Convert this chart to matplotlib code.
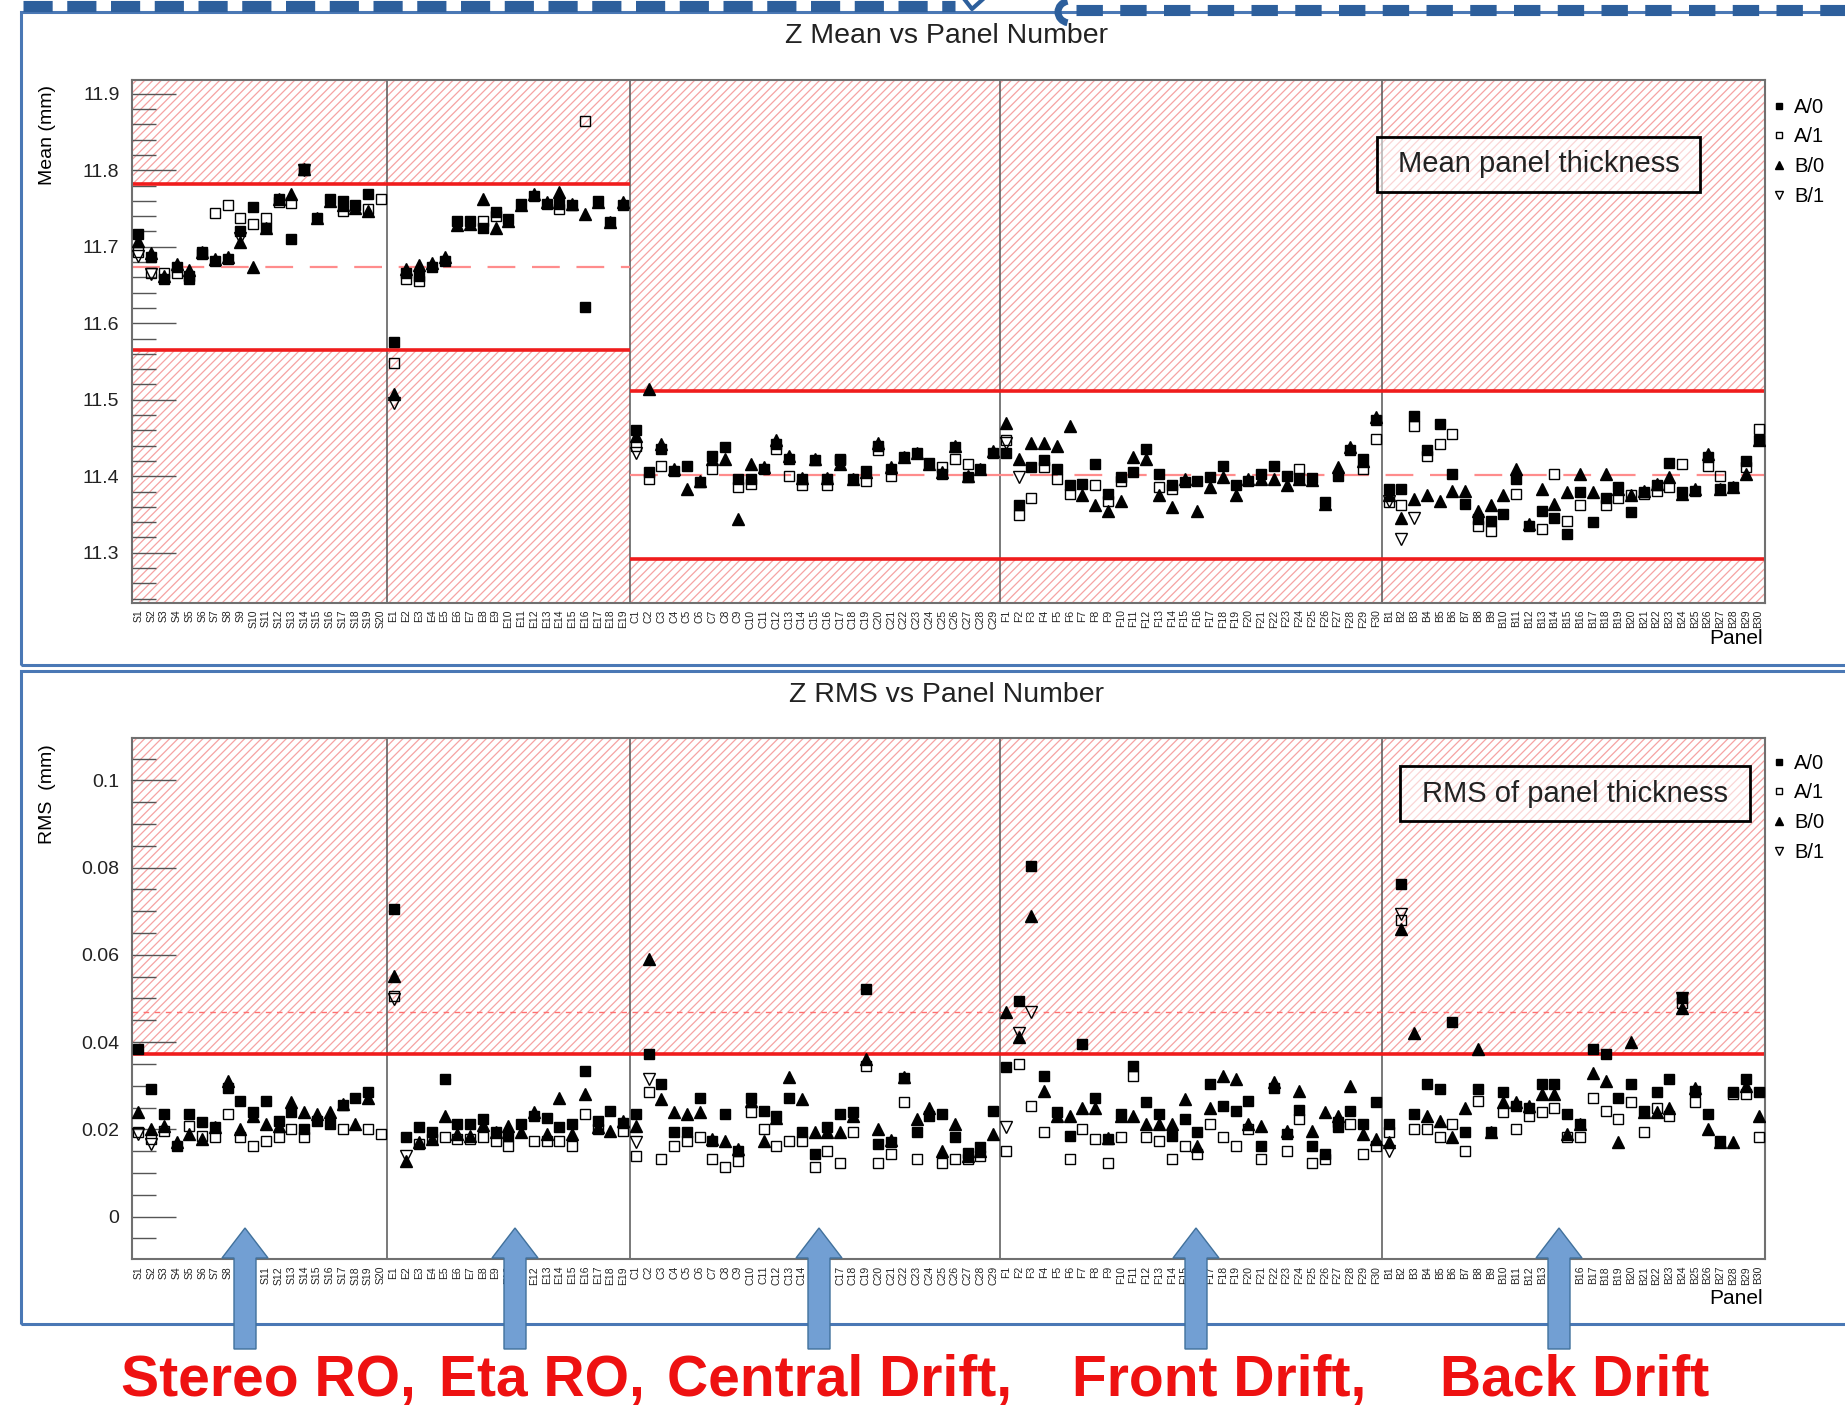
import numpy as np
import matplotlib
matplotlib.use('Agg')
import matplotlib.pyplot as plt
from matplotlib.patches import Rectangle, Polygon, Arc
from matplotlib.lines import Line2D

plt.rcParams['font.family'] = ['Liberation Sans', 'DejaVu Sans']
plt.rcParams['lines.scale_dashes'] = False
plt.rcParams['hatch.linewidth'] = 0.9

nan = np.nan

# panel groups along the x axis
SECTIONS = ['Stereo RO,', 'Eta RO,', 'Central Drift,', 'Front Drift,', 'Back Drift']
SECTION_PREFIX = ['S', 'E', 'C', 'F', 'B']
SECTION_BINS = [20, 19, 29, 30, 30]
SERIES = ['A/0', 'A/1', 'B/0', 'B/1']

# mean thickness per panel (mm)
mean_a0 = [11.717, 11.686, 11.658, 11.673, 11.658, 11.693, 11.682, 11.684, 11.721, 11.752,
           11.725, 11.762, 11.710, 11.802, 11.737, 11.762, 11.760, 11.754, 11.769, nan,
           11.575, 11.666, 11.662, 11.673, 11.682, 11.734, 11.734, 11.725, 11.745, 11.736,
           11.756, 11.767, 11.756, 11.756, 11.754, 11.621, 11.760, 11.732, 11.754,
           11.460, 11.405, 11.436, 11.407, 11.414, 11.392, 11.427, 11.438, 11.396, 11.396,
           11.410, 11.442, 11.423, 11.396, 11.421, 11.396, 11.421, 11.396, 11.407, 11.440,
           11.410, 11.425, 11.431, 11.418, 11.403, 11.438, 11.399, 11.410, 11.431,
           11.431, 11.362, 11.412, 11.421, 11.410, 11.388, 11.390, 11.416, 11.377, 11.399,
           11.405, 11.436, 11.403, 11.388, 11.392, 11.394, 11.399, 11.414, 11.388, 11.394,
           11.403, 11.414, 11.400, 11.398, 11.398, 11.367, 11.400, 11.434, 11.423, 11.473,
           11.383, 11.383, 11.479, 11.434, 11.468, 11.403, 11.364, 11.344, 11.342, 11.351,
           11.396, 11.335, 11.355, 11.346, 11.324, 11.379, 11.340, 11.372, 11.386, 11.353,
           11.379, 11.388, 11.418, 11.379, 11.381, 11.425, 11.383, 11.386, 11.420, 11.447]
mean_a1 = [11.693, 11.666, 11.666, 11.666, 11.662, 11.690, 11.744, 11.754, 11.737, 11.730,
           11.737, 11.758, 11.757, 11.800, nan, nan, 11.747, nan, 11.750, 11.762,
           11.548, 11.658, 11.655, nan, nan, nan, nan, 11.734, 11.740, nan,
           nan, nan, nan, 11.749, nan, 11.865, nan, nan, nan,
           11.440, 11.396, 11.414, nan, nan, nan, 11.410, nan, 11.386, 11.390,
           nan, 11.436, 11.401, 11.388, nan, 11.388, 11.423, nan, 11.394, 11.434,
           11.401, nan, nan, nan, 11.412, 11.423, 11.416, nan, nan,
           11.447, 11.349, 11.372, 11.412, 11.396, 11.377, nan, 11.388, 11.368, 11.394,
           nan, nan, 11.386, 11.384, nan, nan, nan, nan, nan, nan,
           nan, nan, nan, 11.410, nan, nan, nan, nan, 11.410, 11.449,
           11.366, 11.362, 11.466, 11.427, 11.442, 11.455, nan, 11.335, 11.329, nan,
           11.377, nan, 11.331, 11.403, 11.342, 11.362, nan, 11.362, 11.372, 11.375,
           11.377, 11.381, 11.386, 11.416, nan, 11.414, 11.401, nan, 11.412, 11.462]
mean_b0 = [11.708, 11.692, 11.662, 11.677, 11.669, 11.693, 11.684, 11.686, 11.706, 11.673,
           11.725, 11.762, 11.769, 11.802, 11.737, 11.760, 11.754, 11.751, 11.747, nan,
           11.507, 11.671, 11.676, 11.679, 11.686, 11.728, 11.730, 11.762, 11.725, 11.734,
           11.754, 11.769, 11.758, 11.771, 11.756, 11.743, 11.758, 11.733, 11.759,
           11.452, 11.514, 11.442, 11.409, 11.383, 11.394, 11.423, 11.423, 11.344, 11.416,
           11.412, 11.447, 11.427, 11.398, 11.423, 11.398, 11.416, 11.396, 11.405, 11.444,
           11.412, 11.425, 11.431, 11.416, 11.405, 11.440, 11.401, 11.410, 11.433,
           11.470, 11.423, 11.444, 11.444, 11.440, 11.466, 11.375, 11.362, 11.355, 11.368,
           11.425, 11.423, 11.375, 11.360, 11.396, 11.355, 11.386, 11.399, 11.375, 11.396,
           11.396, 11.396, 11.388, 11.396, 11.395, 11.364, 11.412, 11.438, 11.420, 11.477,
           11.376, 11.346, 11.370, 11.375, 11.368, 11.381, 11.381, 11.355, 11.362, 11.375,
           11.410, 11.338, 11.383, 11.364, 11.379, 11.403, 11.379, 11.403, 11.384, 11.375,
           11.381, 11.390, 11.399, 11.377, 11.383, 11.429, 11.383, 11.386, 11.403, 11.447]
# B/1 is only visible on a few panels
mean_b1_bins = [0, 1, 8, 13, 20, 39, 68, 69, 98, 99, 100]
mean_b1 = [11.688, 11.664, 11.712, 11.800, 11.496, 11.431, 11.444, 11.399, 11.368, 11.318, 11.346]

# RMS of thickness per panel (mm)
rms_a0 = [0.0384, 0.0292, 0.0235, 0.0163, 0.0235, 0.0216, 0.0205, 0.0296, 0.0266, 0.0239,
          0.0266, 0.0220, 0.0239, 0.0201, 0.0220, 0.0212, 0.0255, 0.0273, 0.0285, nan,
          0.0705, 0.0182, 0.0205, 0.0193, 0.0315, 0.0212, 0.0212, 0.0224, 0.0193, 0.0185,
          0.0212, 0.0231, 0.0227, 0.0205, 0.0212, 0.0334, 0.0220, 0.0243, 0.0215,
          0.0235, 0.0372, 0.0304, 0.0193, 0.0193, 0.0273, 0.0174, 0.0235, 0.0151, 0.0273,
          0.0243, 0.0231, 0.0273, 0.0193, 0.0144, 0.0205, 0.0235, 0.0239, 0.0521, 0.0166,
          0.0170, 0.0317, 0.0193, 0.0231, 0.0235, 0.0182, 0.0147, 0.0159, 0.0243,
          0.0342, 0.0495, 0.0804, 0.0323, 0.0239, 0.0185, 0.0395, 0.0273, 0.0178, 0.0235,
          0.0346, 0.0262, 0.0235, 0.0185, 0.0224, 0.0193, 0.0304, 0.0254, 0.0243, 0.0266,
          0.0163, 0.0296, 0.0190, 0.0245, 0.0163, 0.0144, 0.0205, 0.0243, 0.0212, 0.0262,
          0.0212, 0.0763, 0.0235, 0.0304, 0.0292, 0.0445, 0.0193, 0.0292, 0.0193, 0.0285,
          0.0254, 0.0250, 0.0304, 0.0304, 0.0235, 0.0212, 0.0384, 0.0372, 0.0273, 0.0304,
          0.0243, 0.0285, 0.0315, 0.0502, 0.0289, 0.0235, 0.0174, 0.0285, 0.0315, 0.0285]
rms_a1 = [0.0193, 0.0178, 0.0197, nan, 0.0208, 0.0185, 0.0182, 0.0235, 0.0182, 0.0163,
          0.0174, 0.0182, 0.0201, 0.0182, nan, nan, 0.0201, nan, 0.0201, 0.0189,
          0.0506, nan, 0.0166, 0.0178, 0.0182, 0.0178, 0.0178, 0.0182, 0.0174, 0.0163,
          nan, 0.0174, 0.0174, 0.0174, 0.0163, 0.0235, 0.0201, nan, 0.0197,
          0.0140, 0.0285, 0.0132, 0.0163, 0.0174, 0.0182, 0.0132, 0.0113, 0.0128, 0.0239,
          0.0201, 0.0163, 0.0174, 0.0174, 0.0113, 0.0151, 0.0124, 0.0193, 0.0346, 0.0124,
          0.0144, 0.0262, 0.0132, nan, 0.0124, 0.0132, 0.0132, 0.0140, nan,
          0.0151, 0.0350, 0.0254, 0.0193, nan, 0.0132, 0.0201, 0.0178, 0.0124, 0.0182,
          0.0323, 0.0182, 0.0174, 0.0132, 0.0163, 0.0144, 0.0212, 0.0182, 0.0163, 0.0201,
          0.0132, nan, 0.0151, 0.0224, 0.0124, 0.0132, 0.0216, 0.0212, 0.0144, 0.0163,
          0.0193, 0.0680, 0.0201, 0.0201, 0.0182, 0.0212, 0.0151, 0.0266, nan, 0.0239,
          0.0201, 0.0231, 0.0239, 0.0250, 0.0182, 0.0182, 0.0273, 0.0243, 0.0224, 0.0262,
          0.0193, 0.0250, 0.0231, 0.0490, 0.0262, nan, nan, 0.0281, 0.0281, 0.0182]
rms_b0 = [0.0239, 0.0201, 0.0208, 0.0170, 0.0189, 0.0178, 0.0205, 0.0311, 0.0201, 0.0230,
          0.0212, 0.0208, 0.0262, 0.0239, 0.0235, 0.0239, 0.0258, 0.0212, 0.0273, nan,
          0.0552, 0.0128, 0.0170, 0.0178, 0.0231, 0.0189, 0.0185, 0.0210, 0.0193, 0.0208,
          0.0195, 0.0239, 0.0189, 0.0273, 0.0189, 0.0281, 0.0205, 0.0197, 0.0220,
          0.0208, 0.0590, 0.0270, 0.0239, 0.0235, 0.0239, 0.0178, 0.0174, 0.0155, 0.0266,
          0.0174, 0.0225, 0.0319, 0.0270, 0.0193, 0.0193, 0.0193, 0.0230, 0.0361, 0.0201,
          0.0175, 0.0319, 0.0224, 0.0250, 0.0151, 0.0212, 0.0140, 0.0150, 0.0189,
          0.0468, 0.0411, 0.0690, 0.0289, 0.0231, 0.0231, 0.0250, 0.0250, 0.0180, 0.0231,
          0.0231, 0.0212, 0.0212, 0.0212, 0.0270, 0.0163, 0.0250, 0.0323, 0.0315, 0.0212,
          0.0208, 0.0308, 0.0197, 0.0289, 0.0197, 0.0239, 0.0231, 0.0300, 0.0189, 0.0178,
          0.0170, 0.0659, 0.0422, 0.0231, 0.0220, 0.0182, 0.0250, 0.0384, 0.0193, 0.0262,
          0.0262, 0.0254, 0.0281, 0.0281, 0.0189, 0.0212, 0.0330, 0.0311, 0.0170, 0.0400,
          0.0239, 0.0239, 0.0250, 0.0479, 0.0296, 0.0201, 0.0170, 0.0170, 0.0300, 0.0231]
rms_b1_bins = [0, 1, 20, 21, 39, 40, 68, 69, 70, 98, 99, 121]
rms_b1 = [0.0189, 0.0166, 0.0498, 0.0140, 0.0170, 0.0315, 0.0205, 0.0422, 0.0468, 0.0151, 0.0693, 0.0500]

# acceptance bands: (first bin, end bin, low, nominal, high)
mean_bands = [(0, 39, 11.565, 11.673, 11.782), (39, 128, 11.292, 11.402, 11.512)]
rms_limit = 0.0372
rms_ref = 0.0469

RED = '#f01c1c'
HATCH = '#f5a3a3'
BLUE = '#4a78b5'
DARK_BLUE = '#2d5f9c'
plt.rcParams['hatch.color'] = HATCH

W, H = 1845, 1412


def fx(x):
    return x / W


def fy(y):
    return 1 - y / H


nbins = sum(SECTION_BINS)
edges = np.cumsum(SECTION_BINS)
centers = np.arange(nbins) + 0.5
labels = [f'{p}{k + 1}' for p, n in zip(SECTION_PREFIX, SECTION_BINS) for k in range(n)]

fig = plt.figure(figsize=(W / 100, H / 100), dpi=100)


def hatch_box(ax, x0, x1, y0, y1):
    ax.add_patch(Rectangle((x0, y0), x1 - x0, y1 - y0, fill=False, hatch='////',
                           edgecolor=HATCH, lw=0, zorder=0.5))


def setup_axes(top, bottom, ylim, major, minor):
    ax = fig.add_axes([fx(132), fy(bottom), fx(1765) - fx(132), (bottom - top) / H])
    ax.set_xlim(0, nbins)
    ax.set_ylim(*ylim)
    for s in ax.spines.values():
        s.set_color('#707070')
        s.set_linewidth(1.5)
    ax.set_xticks(centers)
    ax.set_xticklabels(labels, rotation=90, fontsize=7.5, color='#222222')
    ax.set_xticks(np.arange(4.5, nbins, 5), minor=True)
    ax.tick_params(axis='x', which='major', length=0, pad=5)
    ax.tick_params(axis='x', which='minor', direction='in', length=10.8, width=1, color='#555555')
    ax.set_yticks(major)
    ax.set_yticks(minor, minor=True)
    ax.tick_params(axis='y', which='major', direction='in', length=32, width=1,
                   color='#555555', labelsize=14, pad=9, labelcolor='#222222')
    ax.tick_params(axis='y', which='minor', direction='in', length=17, width=1, color='#555555')
    for e in edges[:-1]:
        ax.axvline(e, color='#555555', lw=1.1, zorder=1)
    return ax


def draw_points(ax, a0, a1, b0, b1_bins, b1):
    h0, = ax.plot(centers, a0, 's', color='black', ms=7, ls='none', label=SERIES[0], zorder=3)
    h1, = ax.plot(centers, a1, 's', mfc='none', mec='black', mew=1, ms=6.5, ls='none',
                  label=SERIES[1], zorder=3)
    h2, = ax.plot(centers, b0, '^', color='black', ms=8, ls='none', label=SERIES[2], zorder=3)
    h3, = ax.plot(np.array(b1_bins) + 0.5, b1, 'v', mfc='none', mec='black', mew=1, ms=8,
                  ls='none', label=SERIES[3], zorder=3)
    return [h0, h1, h2, h3]


def add_legend(ax, handles, top):
    ax.legend(handles=handles, loc='upper left', bbox_to_anchor=(1.0037, top), frameon=False,
              fontsize=14.5, handlelength=0.75, handletextpad=0.4, labelspacing=0.53,
              borderpad=0, borderaxespad=0, markerscale=0.7)


# ---- mean panel ----
ylim_m = (11.235, 11.918)
ax1 = setup_axes(80, 602.5, ylim_m, np.arange(11.3, 11.95, 0.1),
                 np.arange(11.24, 11.92, 0.02))
ax1.set_yticklabels([f'{v:.1f}' for v in np.arange(11.3, 11.95, 0.1)])
for x0, x1, lo, mid, hi in mean_bands:
    hatch_box(ax1, x0, x1, hi, ylim_m[1])
    hatch_box(ax1, x0, x1, ylim_m[0], lo)
    ax1.hlines([lo, hi], x0, x1, color=RED, lw=2.6, zorder=2)
    ax1.hlines(mid, x0, x1, color='#ff8c8c', lw=1.6, linestyles=(0, (20, 12)), zorder=2)
hs = draw_points(ax1, mean_a0, mean_a1, mean_b0, mean_b1_bins, mean_b1)
add_legend(ax1, hs, 0.966)

# ---- RMS panel ----
ylim_r = (-0.0097, 0.1097)
ax2 = setup_axes(738, 1259, ylim_r, [0, 0.02, 0.04, 0.06, 0.08, 0.1],
                 np.arange(-0.005, 0.11, 0.005))
ax2.set_yticklabels(['0', '0.02', '0.04', '0.06', '0.08', '0.1'])
hatch_box(ax2, 0, nbins, rms_limit, ylim_r[1])
ax2.axhline(rms_limit, color=RED, lw=2.6, zorder=2)
ax2.axhline(rms_ref, color='#ff7070', lw=1.0, ls=(0, (4, 4)), zorder=2)
hs = draw_points(ax2, rms_a0, rms_a1, rms_b0, rms_b1_bins, rms_b1)
add_legend(ax2, hs, 0.970)

# titles and axis names
fig.text(fx(947), fy(36), 'Z Mean vs Panel Number', ha='center', va='center', fontsize=20.5,
         color='#222222')
fig.text(fx(947), fy(695), 'Z RMS vs Panel Number', ha='center', va='center', fontsize=20.5,
         color='#222222')
fig.text(fx(47), fy(135), 'Mean (mm)', rotation=90, ha='center', va='center', fontsize=14)
fig.text(fx(47), fy(794), 'RMS  (mm)', rotation=90, ha='center', va='center', fontsize=14)
fig.text(fx(1763), fy(639), 'Panel', ha='right', va='center', fontsize=15)
fig.text(fx(1763), fy(1298), 'Panel', ha='right', va='center', fontsize=15)

# captions in boxes
for (x0, y0, x1, y1), txt in [((1377, 137, 1700, 192), 'Mean panel thickness'),
                              ((1400, 766, 1750, 821), 'RMS of panel thickness')]:
    fig.add_artist(Rectangle((fx(x0), fy(y1)), (x1 - x0) / W, (y1 - y0) / H,
                             transform=fig.transFigure, facecolor=(1, 1, 1, 0.55),
                             edgecolor='black', lw=2))
    fig.text(fx((x0 + x1) / 2), fy((y0 + y1) / 2), txt, ha='center', va='center',
             fontsize=21, color='#222222')

# slide frames
for y0, y1 in [(12, 665), (671, 1324)]:
    fig.add_artist(Rectangle((fx(21), fy(y1)), (W + 20 - 21) / W, (y1 - y0) / H,
                             transform=fig.transFigure, fill=False, edgecolor=BLUE, lw=2.2))
fig.add_artist(Line2D([fx(23), fx(955)], [fy(5.5), fy(5.5)], transform=fig.transFigure,
                      color=DARK_BLUE, lw=8, dashes=(21, 10.5), dash_capstyle='butt'))
fig.add_artist(Line2D([fx(1076), fx(W)], [fy(10), fy(10)], transform=fig.transFigure,
                      color=DARK_BLUE, lw=8, dashes=(19, 12.5), dash_capstyle='butt'))
fig.add_artist(Line2D([fx(965), fx(972), fx(982)], [fy(0), fy(9), fy(0)],
                      transform=fig.transFigure, color=DARK_BLUE, lw=3))
fig.add_artist(Arc((fx(1070), fy(12)), 24 / W, 22 / H, theta1=100, theta2=260,
                   transform=fig.transFigure, color=DARK_BLUE, lw=5))

# arrows and group names under the RMS panel
arrow_x = [245, 515, 819, 1196, 1559]
label_x = [121, 439, 667, 1072, 1440]
for x in arrow_x:
    pts = [(x - 11, 1349), (x - 11, 1258), (x - 23, 1258), (x, 1228),
           (x + 23, 1258), (x + 11, 1258), (x + 11, 1349)]
    fig.add_artist(Polygon([(fx(a), fy(b)) for a, b in pts], closed=True,
                           transform=fig.transFigure, facecolor='#729fd3',
                           edgecolor='#41719c', lw=1, zorder=5))
for x, name in zip(label_x, SECTIONS):
    fig.text(fx(x), fy(1396), name, ha='left', va='baseline', fontsize=41,
             fontweight='bold', color='#ee1111')

fig.savefig('out.png', dpi=100, facecolor='white')
